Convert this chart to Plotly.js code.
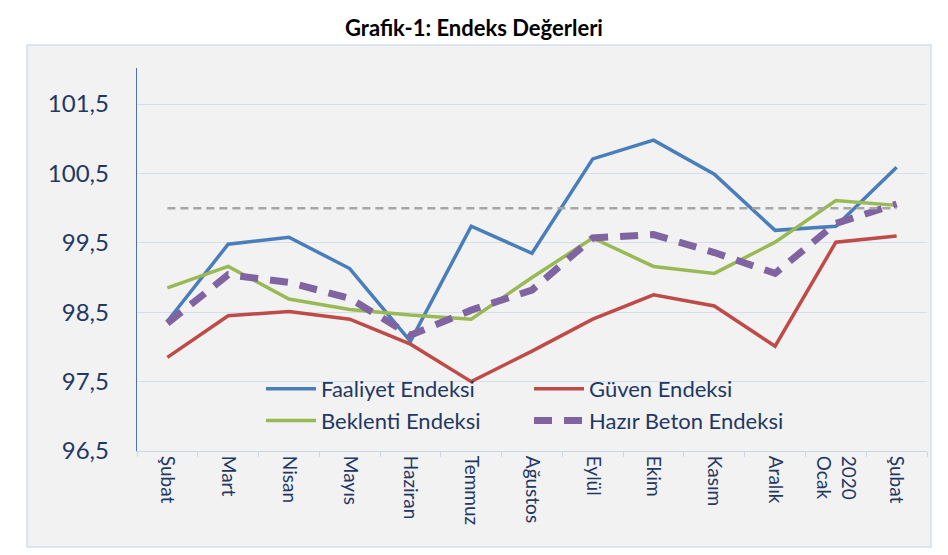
<!DOCTYPE html>
<html>
<head>
<meta charset="utf-8">
<script src="https://cdn.plot.ly/plotly-3.0.1.min.js"></script>
<style>html,body{margin:0;padding:0;background:#fff;}#chart{width:948px;height:555px;}</style>
</head>
<body>
<div id="chart"></div>
<script>
// ---- data ----
var months = ["Şubat","Mart","Nisan","Mayıs","Haziran","Temmuz","Ağustos","Eylül","Ekim","Kasım","Aralık","2020<br>Ocak","Şubat"];
var faaliyet = [98.37, 99.48, 99.58, 99.13, 98.08, 99.74, 99.35, 100.71, 100.98, 100.49, 99.68, 99.74, 100.59];
var guven    = [97.85, 98.45, 98.51, 98.40, 98.04, 97.50, 97.94, 98.40, 98.75, 98.59, 98.01, 99.51, 99.60];
var beklenti = [98.85, 99.16, 98.69, 98.54, 98.46, 98.40, 99.00, 99.57, 99.16, 99.06, 99.51, 100.11, 100.04];
var hazirBeton = [98.34, 99.04, 98.93, 98.70, 98.17, 98.53, 98.82, 99.57, 99.62, 99.36, 99.06, 99.78, 100.06];
var referenceLevel = 100;
var seriesNames = ["Faaliyet Endeksi","Güven Endeksi","Beklenti Endeksi","Hazır Beton Endeksi"];

// ---- layout geometry (px) ----
var W = 948, H = 555;
var M = {l: 137, r: 21, t: 68, b: 104};
var pw = W - M.l - M.r, ph = H - M.t - M.b;
function px2x(px){ return (px - M.l) / pw; }
function px2y(py){ return (H - M.b - py) / ph; }

var idx = months.map(function(_, i){ return i; });
var txtColor = "#1F3864";

var traces = [
  {x: idx, y: faaliyet, name: seriesNames[0], type: "scatter", mode: "lines",
   line: {color: "#4A7EBB", width: 3.5}},
  {x: idx, y: guven, name: seriesNames[1], type: "scatter", mode: "lines",
   line: {color: "#BE4B48", width: 3.5}},
  {x: idx, y: beklenti, name: seriesNames[2], type: "scatter", mode: "lines",
   line: {color: "#98B954", width: 3.5}},
  {x: idx, y: hazirBeton, name: seriesNames[3], type: "scatter", mode: "lines",
   line: {color: "#8064A2", width: 7, dash: "18px,12px"}},
  {x: [idx[0], idx[idx.length-1]], y: [referenceLevel, referenceLevel], type: "scatter", mode: "lines",
   showlegend: false, hoverinfo: "skip",
   line: {color: "#A6A6A6", width: 2.5, dash: "8px,5px"}}
];

var layout = {
  width: W, height: H,
  margin: M,
  paper_bgcolor: "#FFFFFF",
  plot_bgcolor: "rgba(0,0,0,0)",
  separators: ",.",
  font: {family: "Lato, 'Open Sans', sans-serif", color: txtColor},
  title: {text: "<b>Grafik-1: Endeks Değerleri</b>", x: 0.5, xref: "container", xanchor: "center",
          y: 1 - 28 / H, yref: "container", yanchor: "middle",
          font: {family: "Lato, 'Open Sans', sans-serif", size: 22, color: "#000000"}},
  shapes: [{type: "rect", xref: "paper", yref: "paper", layer: "below",
            x0: px2x(27), x1: px2x(931), y0: px2y(547), y1: px2y(45),
            fillcolor: "#F2F2F2", line: {color: "#D3DEEA", width: 1.5}}],
  xaxis: {
    type: "linear", range: [-0.5, idx.length - 0.5],
    tickmode: "array", tickvals: idx, ticktext: months, tickangle: 90,
    ticks: "", showgrid: false, zeroline: false,
    showline: true, linecolor: "#C9D6E6", linewidth: 1,
    tickfont: {size: 19, color: txtColor},
    minor: {tick0: -0.5, dtick: 1, ticks: "outside", ticklen: 5, tickcolor: "#C9D6E6", showgrid: false}
  },
  yaxis: {
    range: [96.5, 102.02], tick0: 96.5, dtick: 1, tickformat: ".1f",
    ticks: "", ticklabelstandoff: 22,
    showgrid: true, gridcolor: "#D5DFEB", gridwidth: 1, zeroline: false,
    showline: true, linecolor: "#4F71A8", linewidth: 1.2,
    tickfont: {size: 24, color: txtColor}
  },
  legend: {orientation: "h", x: px2x(261), xanchor: "left", y: px2y(368), yanchor: "top",
           entrywidth: 203, entrywidthmode: "pixels", bgcolor: "rgba(0,0,0,0)",
           itemwidth: 50, tracegroupgap: 0,
           font: {size: 22, color: txtColor}},
  showlegend: true
};

Plotly.newPlot("chart", traces, layout, {displayModeBar: false, staticPlot: true});
</script>
</body>
</html>
